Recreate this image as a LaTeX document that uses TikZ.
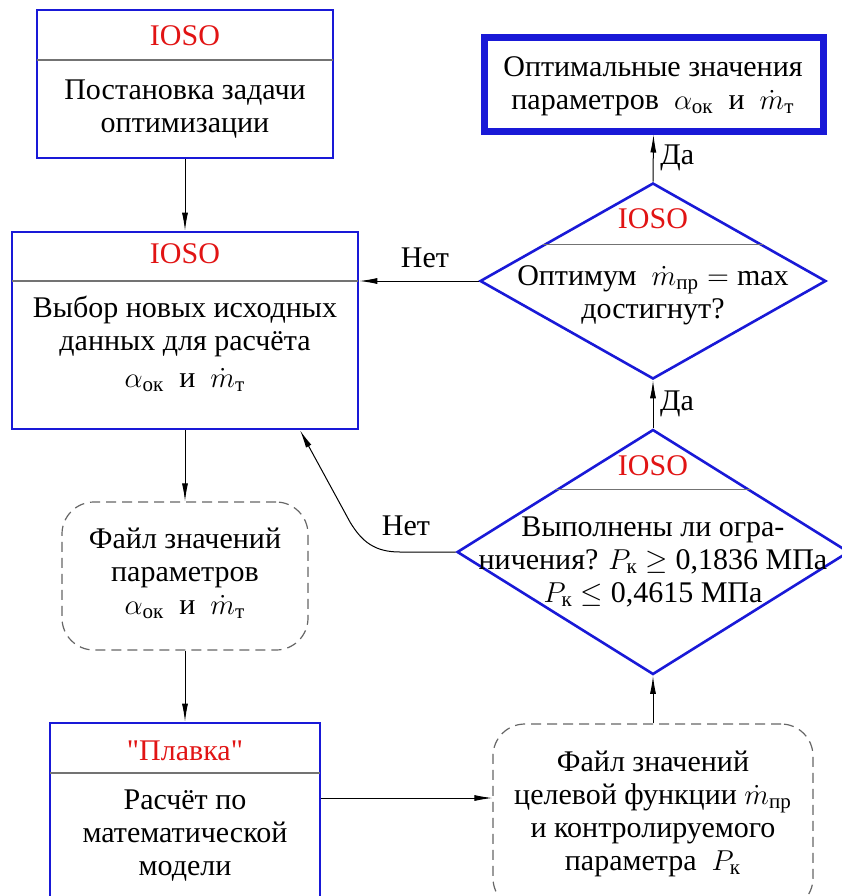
\documentclass[tikz,border=0pt]{standalone}
\usepackage{fontspec}
\setmainfont{Liberation Serif}
\newfontfamily\plainquotes{Liberation Serif}[Ligatures=ResetAll]
\usepackage{amsmath}
\usetikzlibrary{shapes.geometric,arrows.meta,fit,calc}

\definecolor{boxblue}{RGB}{25,25,215}
\definecolor{iosored}{RGB}{225,20,20}

\tikzset{
  procbox/.style={draw=boxblue, line width=1.3pt, inner sep=0pt},
  resultbox/.style={draw=boxblue, line width=3.5pt, inner sep=0pt},
  filebox/.style={draw=black!60, line width=0.6pt, dash pattern=on 5pt off 3pt, rounded corners=16pt, inner sep=0pt},
  decision/.style={diamond, draw=boxblue, line width=1.3pt, inner sep=0pt},
  divider/.style={draw=black!55, line width=0.6pt},
  head/.style={text=iosored},
  body/.style={align=center},
  arrow/.style={-{Latex[length=9pt,width=3pt]}, line width=0.5pt},
}

\begin{document}
\begin{tikzpicture}
    [x=0.5pt, y=-0.5pt, font=\fontsize{15}{16.5}\selectfont]
    \useasboundingbox (0,0) rectangle (842,896);
    \clip (0,0) rectangle (842,896);
    % problem statement
    \node[procbox, fit={(37,10) (333,158)}] (setup) {};
    \draw[divider] (37,60) -- (333,60);
    \node[head] (setuphead) at (185,36) {IOSO};
    \node[body] (setuptext) at (185,109) {Постановка задачи\\оптимизации};
    % new input data
    \node[procbox, fit={(12,232) (358,429)}] (choose) {};
    \draw[divider] (12,281) -- (358,281);
    \node[head] (choosehead) at (185,254) {IOSO};
    \node[body] (choosetext) at (185,344) {Выбор новых исходных\\данных для расчёта\\[2pt]
      $\alpha_{\text{ок}}$\enspace и\enspace $\dot m_{\text{т}}$};
    % parameter file
    \node[filebox, fit={(62,502) (308,650)}] (params) {};
    \node[body] (paramstext) at (185,573) {Файл значений\\параметров\\
      $\alpha_{\text{ок}}$\enspace и\enspace $\dot m_{\text{т}}$};
    % model
    \node[procbox, fit={(50,723) (320,910)}] (melt) {};
    \draw[divider] (50,773) -- (320,773);
    \node[head, font=\fontsize{15}{16.5}\plainquotes] (melthead) at (185,751) {"Плавка"};
    \node[body] (melttext) at (185,836) {Расчёт по\\математической\\модели};
    % objective file
    \node[filebox, fit={(493,724) (813,910)}] (objfile) {};
    \node[body] (objtext) at (653,814) {Файл значений\\целевой функции $\dot m_{\text{пр}}$\\
      и контролируемого\\параметра\enspace $P_{\text{к}}$};
    % constraints check
    \node[decision, minimum width=196pt, minimum height=122.5pt] (limits) at (653,552) {};
    \draw[divider] ($(limits.west)!0.506!(limits.north)$) -- ($(limits.east)!0.506!(limits.north)$);
    \node[head] (limitshead) at (653,466) {IOSO};
    \node[body] (limitstext) at (653,562) {Выполнены ли огра-\\
      ничения? $P_{\text{к}}\geq$ 0,1836 МПа\\$P_{\text{к}}\leq$ 0,4615 МПа};
    % optimum check
    \node[decision, minimum width=173pt, minimum height=98pt] (qopt) at (653,281) {};
    \draw[divider] ($(qopt.west)!0.367!(qopt.north)$) -- ($(qopt.east)!0.367!(qopt.north)$);
    \node[head] (qopthead) at (653,219) {IOSO};
    \node[body] (qopttext) at (653,295) {Оптимум\enspace $\dot m_{\text{пр}} = \max$\\достигнут?};
    % result
    \node[resultbox, fit={(484,37) (823,131)}] (result) {};
    \node[body] (resulttext) at (653,86) {Оптимальные значения\\
      параметров\enspace $\alpha_{\text{ок}}$\enspace и\enspace $\dot m_{\text{т}}$};
    % arrows
    \coordinate (flow) at (0,798);
    \coordinate (bend) at (400,552);
    \draw[arrow] (setup.south) -- (choose.north);
    \draw[arrow] (choose.south) -- (params.north);
    \draw[arrow] (params.south) -- (melt.north);
    \draw[arrow] (melt.east |- flow) -- (objfile.west |- flow);
    \draw[arrow] (objfile.north) -- (limits.south);
    \draw[arrow] (limits.north) -- node[right] {Да} (qopt.south);
    \draw[arrow] (qopt.north) -- node[right] {Да} (result.south);
    \draw[arrow] (qopt.west) -- node[above=3pt, pos=0.45] {Нет} (choose.east |- qopt.west);
    \draw[arrow] (limits.west) -- (bend) .. controls (375,552) and (362,542) .. (350,522)
      -- ($(choose.south west)!0.83!(choose.south east)$);
    \node (no2) at (406,526) {Нет};
\end{tikzpicture}
\end{document}
